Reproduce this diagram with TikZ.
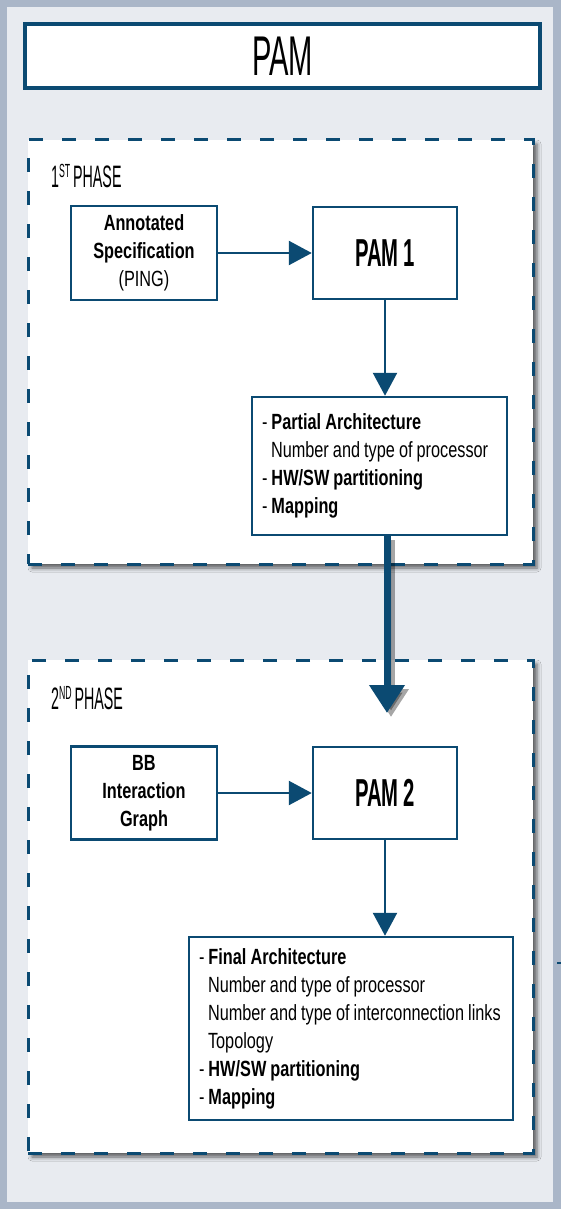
\documentclass[tikz,border=0pt]{standalone}
\usepackage{fontspec}
\setmainfont{Liberation Sans}[FakeStretch=0.74,WordSpace=0.9]
\newfontfamily\capfont{Liberation Sans}[FakeStretch=0.52,WordSpace=0.9]
\newfontfamily\phasefont{Liberation Sans}[FakeStretch=0.46,WordSpace=0.6]
\usetikzlibrary{arrows.meta,shadows.blur}
\definecolor{pblue}{HTML}{0B4A72}
\definecolor{panel}{HTML}{E8EBF0}
\definecolor{frame}{HTML}{AAB6C8}
\tikzset{
  phasebox/.style={draw=pblue, line width=3pt, dash pattern=on 14pt off 19pt, fill=white,
    blur shadow={shadow xshift=4pt, shadow yshift=-4pt, shadow opacity=60, shadow blur radius=4pt},
    minimum width=#1, inner sep=0pt},
  stepbox/.style={draw=pblue, line width=2.5pt, fill=white, inner sep=0pt, align=center,
    font=\fontsize{22}{28}\selectfont},
  listbox/.style={draw=pblue, line width=2.5pt, fill=white, inner xsep=10pt, inner ysep=0pt,
    align=flush left, font=\fontsize{22}{28}\selectfont},
  pamlabel/.style={font=\capfont\bfseries\fontsize{39}{39}\selectfont},
  phaselabel/.style={anchor=base west, inner sep=0pt, font=\phasefont\fontsize{31}{31}\selectfont},
  arr/.style={draw=pblue, line width=2.5pt, -{Triangle[width=24pt,length=23pt]}},
  bigarr/.style={draw=pblue, line width=7pt, -{Triangle[width=34pt,length=28pt]}},
}
\begin{document}
\begin{tikzpicture}[x=1pt,y=-1pt]
\useasboundingbox (0,0) rectangle (561,1209);
\fill[frame] (0,0) rectangle (561,1209);
\fill[panel] (7,7) rectangle (553,1202);
% title
\node[draw=pblue, line width=3.5pt, fill=white, minimum width=515pt, minimum height=64pt,
  inner sep=0pt, font=\capfont\fontsize{56}{56}\selectfont] (title) at (282.5,56) {PAM};
% phases
\node[phasebox=505pt, minimum height=424pt] (ph1) at (280.5,352) {};
\node[phasebox=505pt, minimum height=493pt] (ph2) at (280.5,906.5) {};
\node[phaselabel] (ph1lab) at (51,187) {1\textsuperscript{\fontsize{19}{19}\selectfont ST} PHASE};
\node[phaselabel] (ph2lab) at (51,709) {2\textsuperscript{\fontsize{19}{19}\selectfont ND} PHASE};
% phase 1
\node[stepbox, minimum width=146pt, minimum height=94pt] (spec) at (144,253)
  {\textbf{Annotated}\\\textbf{Specification}\\(PING)};
\node[stepbox, minimum width=144pt, minimum height=92pt, pamlabel] (pam1) at (385,253) {PAM 1};
\node[listbox, text width=235pt, minimum height=138pt] (part) at (379.5,466)
  {- \textbf{Partial Architecture}\\
   \hspace*{9pt}Number and type of processor\\
   - \textbf{HW/SW partitioning}\\
   - \textbf{Mapping}};
% phase 2
\node[stepbox, minimum width=146pt, minimum height=93pt] (bb) at (144,793)
  {\textbf{BB}\\\textbf{Interaction}\\\textbf{Graph}};
\node[stepbox, minimum width=144pt, minimum height=92pt, pamlabel] (pam2) at (385,793) {PAM 2};
\node[listbox, text width=304pt, minimum height=183pt] (final) at (351,1028.5)
  {- \textbf{Final Architecture}\\
   \hspace*{9pt}Number and type of processor\\
   \hspace*{9pt}\mbox{Number and type of interconnection links}\\
   \hspace*{9pt}Topology\\
   - \textbf{HW/SW partitioning}\\
   - \textbf{Mapping}};
% arrows
\draw[arr] (spec.east) -- (spec.east -| pam1.west);
\draw[arr] (pam1.south) -- (pam1.south |- part.north);
\draw[arr] (bb.east) -- (bb.east -| pam2.west);
\draw[arr] (pam2.south) -- (pam2.south |- final.north);
\coordinate (bigtip) at (387,713);
\coordinate (bigshtip) at (391,717);
\draw[bigarr, draw=black, fill=black, opacity=0.35] ([xshift=4pt,yshift=-4pt]part.south -| bigtip) -- (bigshtip);
\draw[bigarr, fill=pblue] (part.south -| bigtip) -- (bigtip);
% cut-off mark at the right edge
\coordinate (edgea) at (557,963);
\coordinate (edgeb) at (561,963);
\draw[pblue, line width=2pt] (edgea) -- (edgeb);
\end{tikzpicture}
\end{document}
